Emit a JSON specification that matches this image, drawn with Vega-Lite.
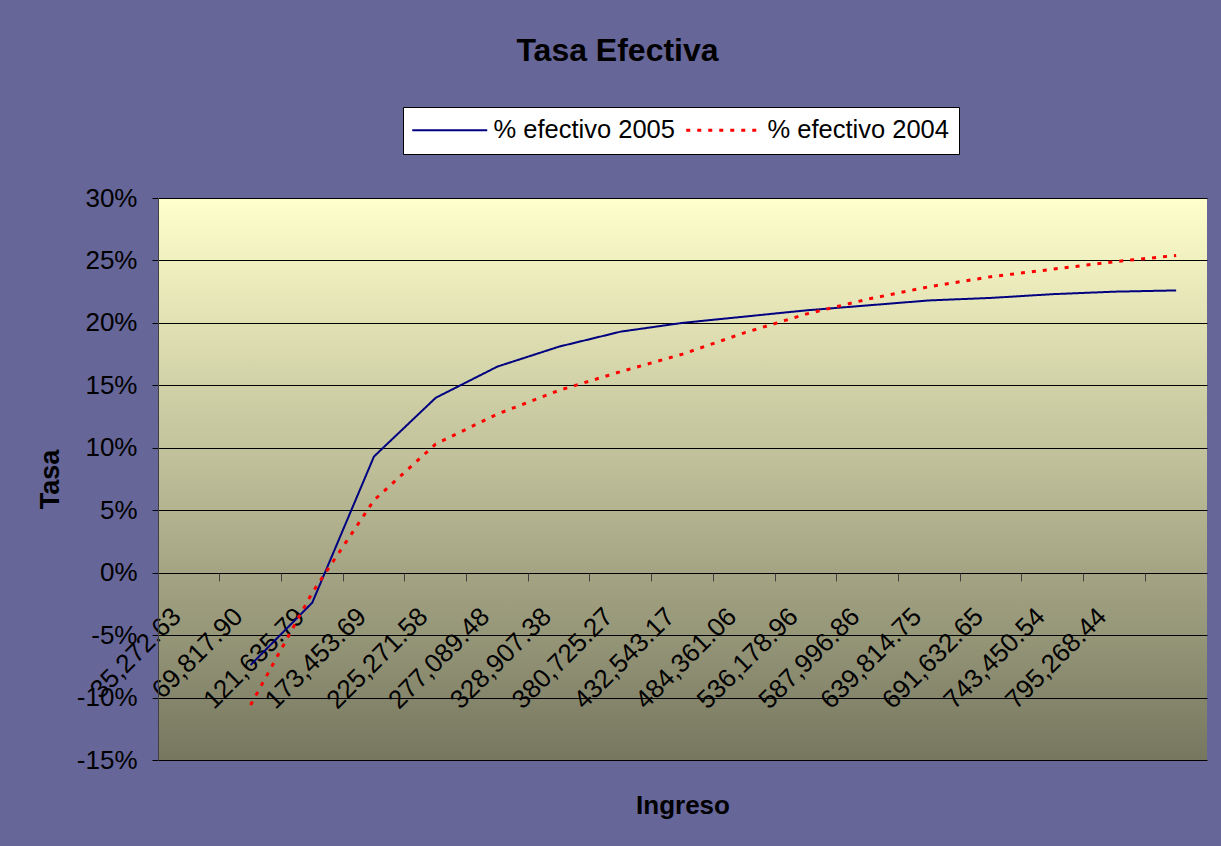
{
  "$schema": "https://vega.github.io/schema/vega-lite/v6.json",
  "width": 1049,
  "height": 562,
  "autosize": {"type": "none"},
  "padding": {"left": 158, "top": 198, "right": 14, "bottom": 86},
  "background": "#666699",
  "title": {"text": "Tasa Efectiva", "fontSize": 32, "fontWeight": "bold", "font": "Liberation Sans", "color": "black", "anchor": "middle", "frame": "group", "dx": -65, "offset": 39},
  "config": {
    "font": "Liberation Sans",
    "view": {"stroke": null, "fill": {"gradient": "linear", "x1": 0, "y1": 0, "x2": 0, "y2": 1, "stops": [{"offset": 0, "color": "#FFFFCC"}, {"offset": 1, "color": "#777760"}]}},
    "axis": {"labelColor": "black", "titleColor": "black", "labelFont": "Liberation Sans", "titleFont": "Liberation Sans"}
  },
  "data": {"values": [
    {"ingreso": "69,817.90", "serie": "% efectivo 2005", "tasa": -0.074},
    {"ingreso": "121,635.79", "serie": "% efectivo 2005", "tasa": -0.024},
    {"ingreso": "173,453.69", "serie": "% efectivo 2005", "tasa": 0.093},
    {"ingreso": "225,271.58", "serie": "% efectivo 2005", "tasa": 0.140},
    {"ingreso": "277,089.48", "serie": "% efectivo 2005", "tasa": 0.165},
    {"ingreso": "328,907.38", "serie": "% efectivo 2005", "tasa": 0.181},
    {"ingreso": "380,725.27", "serie": "% efectivo 2005", "tasa": 0.193},
    {"ingreso": "432,543.17", "serie": "% efectivo 2005", "tasa": 0.200},
    {"ingreso": "484,361.06", "serie": "% efectivo 2005", "tasa": 0.205},
    {"ingreso": "536,178.96", "serie": "% efectivo 2005", "tasa": 0.210},
    {"ingreso": "587,996.86", "serie": "% efectivo 2005", "tasa": 0.214},
    {"ingreso": "639,814.75", "serie": "% efectivo 2005", "tasa": 0.218},
    {"ingreso": "691,632.65", "serie": "% efectivo 2005", "tasa": 0.220},
    {"ingreso": "743,450.54", "serie": "% efectivo 2005", "tasa": 0.223},
    {"ingreso": "795,268.44", "serie": "% efectivo 2005", "tasa": 0.225},
    {"ingreso": " ", "serie": "% efectivo 2005", "tasa": 0.226},
    {"ingreso": "69,817.90", "serie": "% efectivo 2004", "tasa": -0.106},
    {"ingreso": "121,635.79", "serie": "% efectivo 2004", "tasa": -0.016},
    {"ingreso": "173,453.69", "serie": "% efectivo 2004", "tasa": 0.058},
    {"ingreso": "225,271.58", "serie": "% efectivo 2004", "tasa": 0.103},
    {"ingreso": "277,089.48", "serie": "% efectivo 2004", "tasa": 0.127},
    {"ingreso": "328,907.38", "serie": "% efectivo 2004", "tasa": 0.146},
    {"ingreso": "380,725.27", "serie": "% efectivo 2004", "tasa": 0.161},
    {"ingreso": "432,543.17", "serie": "% efectivo 2004", "tasa": 0.175},
    {"ingreso": "484,361.06", "serie": "% efectivo 2004", "tasa": 0.192},
    {"ingreso": "536,178.96", "serie": "% efectivo 2004", "tasa": 0.207},
    {"ingreso": "587,996.86", "serie": "% efectivo 2004", "tasa": 0.219},
    {"ingreso": "639,814.75", "serie": "% efectivo 2004", "tasa": 0.229},
    {"ingreso": "691,632.65", "serie": "% efectivo 2004", "tasa": 0.237},
    {"ingreso": "743,450.54", "serie": "% efectivo 2004", "tasa": 0.243},
    {"ingreso": "795,268.44", "serie": "% efectivo 2004", "tasa": 0.249},
    {"ingreso": " ", "serie": "% efectivo 2004", "tasa": 0.254}
  ]},
  "layer": [
    {
      "transform": [{"filter": "datum.serie == '% efectivo 2005'"}],
      "mark": {"type": "line", "strokeCap": "butt", "strokeJoin": "miter"},
      "encoding": {
        "x": {
          "field": "ingreso", "type": "ordinal", "bandPosition": 0.5,
          "scale": {"type": "band", "paddingInner": 0, "paddingOuter": 0,
            "domain": ["35,272.63", "69,817.90", "121,635.79", "173,453.69", "225,271.58", "277,089.48", "328,907.38", "380,725.27", "432,543.17", "484,361.06", "536,178.96", "587,996.86", "639,814.75", "691,632.65", "743,450.54", "795,268.44", " "]},
          "axis": {"orient": "bottom", "offset": -187, "labels": false, "ticks": true, "tickSize": 8, "tickColor": "#404040", "tickWidth": 1, "bandPosition": 0, "domain": false, "grid": false,
            "title": "Ingreso", "titleFontSize": 26, "titleFontWeight": "bold", "titleY": 240, "titleBaseline": "alphabetic"}
        },
        "y": {
          "field": "tasa", "type": "quantitative",
          "scale": {"domain": [-0.15, 0.30], "nice": false, "zero": false},
          "axis": {"values": [-0.15, -0.10, -0.05, 0, 0.05, 0.10, 0.15, 0.20, 0.25, 0.30],
            "labelExpr": "(datum.value < -0.0001 ? '-' : '') + format(abs(datum.value), '.0%')",
            "grid": true, "gridColor": "black", "gridWidth": 1, "gridOpacity": 1,
            "domain": true, "domainColor": "#404040", "domainWidth": 1,
            "ticks": true, "tickSize": 6, "tickColor": "black", "tickWidth": 1,
            "labelFontSize": 26, "labelPadding": 15,
            "title": "Tasa", "titleFontSize": 27, "titleFontWeight": "bold", "titlePadding": 12}
        },
        "color": {"field": "serie", "type": "nominal",
          "scale": {"domain": ["% efectivo 2005", "% efectivo 2004"], "range": ["#000080", "#FF0000"]},
          "legend": {"orient": "none", "legendX": 245, "legendY": -91, "direction": "horizontal", "title": null, "fillColor": "white", "strokeColor": "black", "padding": 10, "labelFontSize": 25.5, "labelColor": "black", "labelFont": "Liberation Sans", "symbolType": "M-1,0H9", "symbolSize": 225, "symbolStrokeWidth": 2, "symbolOffset": -6, "labelOffset": 61, "columnPadding": 5, "cornerRadius": 0, "labelLimit": 400}},
        "strokeDash": {"field": "serie", "type": "nominal",
          "scale": {"domain": ["% efectivo 2005", "% efectivo 2004"], "range": [[1, 0], [4, 7]]},
          "legend": {"orient": "none", "legendX": 245, "legendY": -91, "direction": "horizontal", "title": null, "fillColor": "white", "strokeColor": "black", "padding": 10, "labelFontSize": 25.5, "labelColor": "black", "labelFont": "Liberation Sans", "symbolType": "M-1,0H9", "symbolSize": 225, "symbolStrokeWidth": 2, "symbolOffset": -6, "labelOffset": 61, "columnPadding": 5, "cornerRadius": 0, "labelLimit": 400}},
        "strokeWidth": {"field": "serie", "type": "nominal",
          "scale": {"domain": ["% efectivo 2005", "% efectivo 2004"], "range": [2, 3]}, "legend": null}
      }
    },
    {
      "transform": [{"filter": "datum.serie == '% efectivo 2004'"}],
      "mark": {"type": "line", "strokeCap": "butt", "strokeJoin": "miter"},
      "encoding": {
        "x": {
          "field": "ingreso", "type": "ordinal", "bandPosition": 0.5,
          "axis": {"orient": "bottom", "offset": -187, "labels": true, "ticks": false, "domain": false, "grid": false, "title": null,
            "labelAngle": -45, "labelAlign": "right", "labelBaseline": "middle", "labelPadding": 39, "labelOffset": -12, "labelFontSize": 26, "labelOverlap": false, "labelLimit": 400}
        },
        "y": {"field": "tasa", "type": "quantitative"},
        "color": {"field": "serie", "type": "nominal"},
        "strokeDash": {"field": "serie", "type": "nominal"},
        "strokeWidth": {"field": "serie", "type": "nominal", "legend": null}
      }
    }
  ],
  "resolve": {"axis": {"x": "independent"}}
}
